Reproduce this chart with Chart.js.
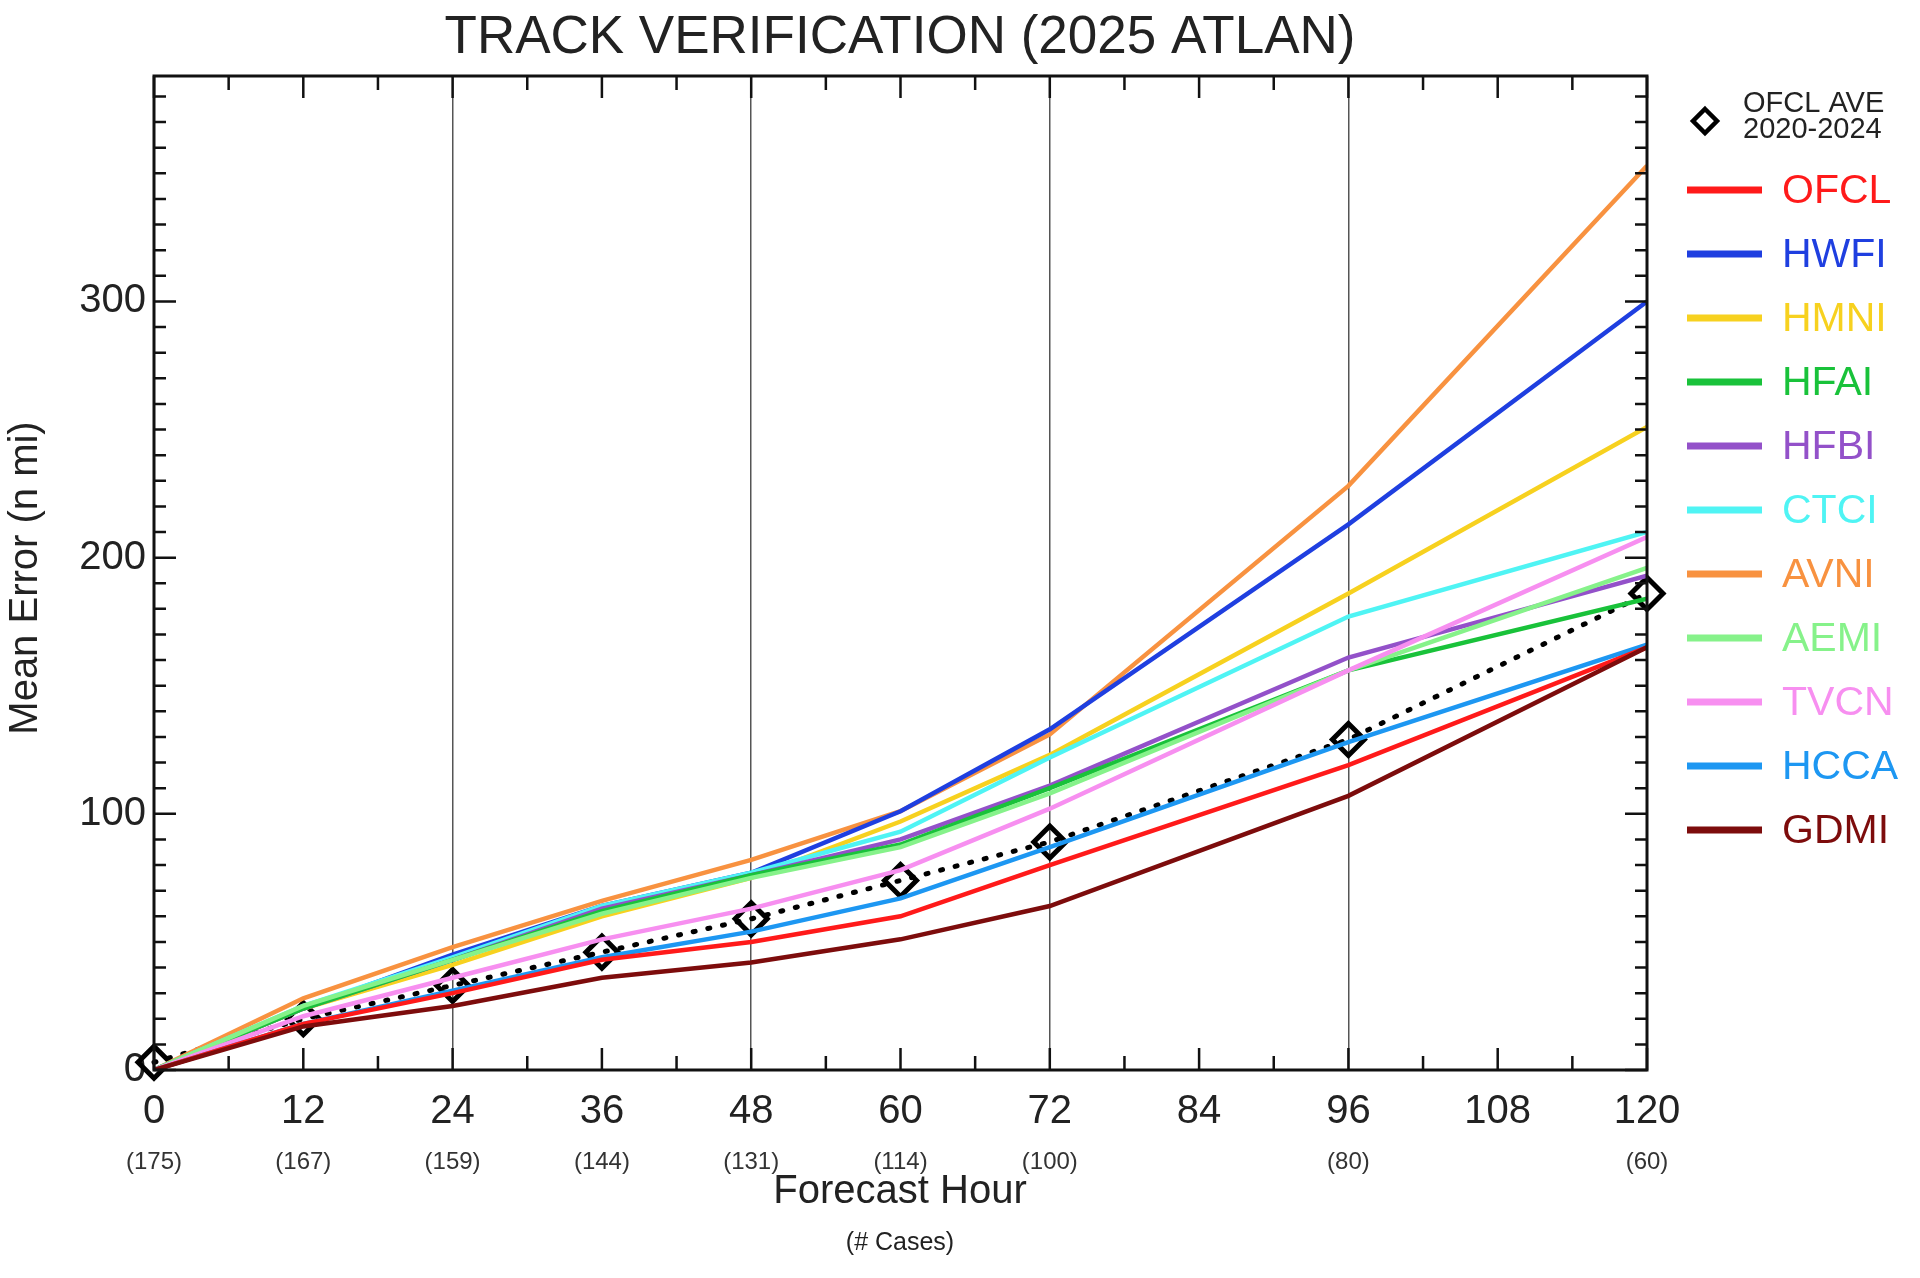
<!DOCTYPE html>
<html>
<head>
<meta charset="utf-8">
<script src="https://cdn.jsdelivr.net/npm/chart.js@4"></script>
<style>
  html, body { margin: 0; padding: 0; background: #fff; }
  #wrap { width: 1920px; height: 1278px; }
</style>
</head>
<body>
<div id="wrap"><canvas id="c" width="1920" height="1278"></canvas></div>
<script>
/* ---------- data ---------- */
const hours = [0, 12, 24, 36, 48, 60, 72, 96, 120];
const xTickLabels = ['0', '12', '24', '36', '48', '60', '72', '84', '96', '108', '120'];
const caseCounts = ['(175)', '(167)', '(159)', '(144)', '(131)', '(114)', '(100)', '', '(80)', '', '(60)'];
const yTickValues = [0, 100, 200, 300];

const ofclAve = [3, 20, 33, 46, 59, 74, 89, 129, 186];
const ofcl = [0, 18, 30, 43, 50, 60, 80, 119, 165];
const hwfi = [0, 24, 45, 64, 77, 101, 133, 213, 300];
const hmni = [0, 24, 41, 60, 75, 97, 123, 186, 251];
const hfai = [0, 24, 43, 62, 76, 88, 110, 156, 184];
const hfbi = [0, 24, 43, 63, 76, 90, 111, 161, 193];
const ctci = [0, 25, 44, 64, 77, 93, 122, 177, 210];
const avni = [0, 28, 48, 66, 82, 101, 131, 228, 353];
const aemi = [0, 25, 43, 61, 75, 87, 108, 156, 196];
const tvcn = [0, 21, 36, 51, 63, 78, 102, 156, 208];
const hcca = [0, 18, 31, 44, 54, 67, 87, 128, 166];
const gdmi = [0, 17, 25, 36, 42, 51, 64, 107, 165];

const models = [
  { name: 'OFCL', values: ofcl, color: '#ff1a1a' },
  { name: 'HWFI', values: hwfi, color: '#1f3fe0' },
  { name: 'HMNI', values: hmni, color: '#f7d11f' },
  { name: 'HFAI', values: hfai, color: '#19c23a' },
  { name: 'HFBI', values: hfbi, color: '#9351c9' },
  { name: 'CTCI', values: ctci, color: '#4ff4f4' },
  { name: 'AVNI', values: avni, color: '#f89240' },
  { name: 'AEMI', values: aemi, color: '#86f28a' },
  { name: 'TVCN', values: tvcn, color: '#f78ff0' },
  { name: 'HCCA', values: hcca, color: '#1d97f2' },
  { name: 'GDMI', values: gdmi, color: '#7d0c0c' }
];

const FONT = '"Liberation Sans", Arial, sans-serif';
const toPts = vals => vals.map((v, i) => ({ x: hours[i], y: v }));

// draw order: back to front roughly like the original
const drawOrder = ['GDMI', 'OFCL', 'HCCA', 'TVCN', 'AEMI', 'HFAI', 'HFBI', 'CTCI', 'HMNI', 'HWFI', 'AVNI'];
const datasets = drawOrder.map(n => {
  const m = models.find(mm => mm.name === n);
  return {
    label: m.name, data: toPts(m.values), borderColor: m.color,
    borderWidth: 4.5, pointRadius: 0, tension: 0, fill: false
  };
});
datasets.push({
  label: 'OFCL AVE', data: toPts(ofclAve), borderColor: '#000',
  borderWidth: 5, borderDash: [2, 13], borderCapStyle: 'round', clip: false,
  pointStyle: 'rectRot', pointRadius: 16, pointBorderWidth: 5,
  pointBorderColor: '#000', pointBackgroundColor: 'rgba(0,0,0,0)', tension: 0
});

/* ---------- frame, inside ticks, legend, labels ---------- */
const decor = {
  id: 'decor',
  afterDraw(chart) {
    const { ctx, chartArea: a, scales: { x, y } } = chart;
    ctx.save();
    ctx.strokeStyle = '#111';
    ctx.lineWidth = 3;
    ctx.strokeRect(a.left, a.top, a.right - a.left, a.bottom - a.top);

    // x ticks (inside, top and bottom)
    ctx.lineWidth = 2.5;
    for (let h = 0; h <= 120; h += 6) {
      const px = x.getPixelForValue(h);
      const len = h % 12 === 0 ? 22 : 14;
      ctx.beginPath();
      ctx.moveTo(px, a.bottom); ctx.lineTo(px, a.bottom - len);
      ctx.moveTo(px, a.top); ctx.lineTo(px, a.top + len);
      ctx.stroke();
    }
    // y ticks (inside, left and right)
    for (let v = 0; v <= y.max; v += 10) {
      const py = y.getPixelForValue(v);
      const len = v % 100 === 0 ? 22 : 12;
      ctx.beginPath();
      ctx.moveTo(a.left, py); ctx.lineTo(a.left + len, py);
      ctx.moveTo(a.right, py); ctx.lineTo(a.right - len, py);
      ctx.stroke();
    }

    // case counts
    ctx.fillStyle = '#333';
    ctx.font = '24px ' + FONT;
    ctx.textAlign = 'center';
    ctx.textBaseline = 'middle';
    caseCounts.forEach((c, i) => {
      if (c) ctx.fillText(c, x.getPixelForValue(i * 12), 1162);
    });

    // axis titles
    ctx.fillStyle = '#222';
    ctx.font = '40px ' + FONT;
    ctx.fillText('Forecast Hour', 900, 1192);
    ctx.font = '25px ' + FONT;
    ctx.fillText('(# Cases)', 900, 1243);
    ctx.save();
    ctx.translate(26, 578);
    ctx.rotate(-Math.PI / 2);
    ctx.font = '40px ' + FONT;
    ctx.fillText('Mean Error (n mi)', 0, 0);
    ctx.restore();

    // title
    ctx.font = '53px ' + FONT;
    ctx.fillText('TRACK VERIFICATION (2025 ATLAN)', 900, 38);

    // legend
    ctx.strokeStyle = '#000';
    ctx.lineWidth = 4.5;
    ctx.beginPath();
    const dx = 1705, dy = 121, r = 12;
    ctx.moveTo(dx, dy - r); ctx.lineTo(dx + r, dy); ctx.lineTo(dx, dy + r); ctx.lineTo(dx - r, dy); ctx.closePath();
    ctx.stroke();
    ctx.fillStyle = '#222';
    ctx.textAlign = 'left';
    ctx.font = '29px ' + FONT;
    ctx.fillText('OFCL AVE', 1743, 104);
    ctx.fillText('2020-2024', 1743, 130);

    ctx.font = '41px ' + FONT;
    ctx.lineWidth = 7;
    models.forEach((m, i) => {
      const ly = 190 + i * 64;
      ctx.strokeStyle = m.color;
      ctx.beginPath();
      ctx.moveTo(1687, ly); ctx.lineTo(1762, ly);
      ctx.stroke();
      ctx.fillStyle = m.color;
      ctx.fillText(m.name, 1782, ly + 2);
    });
    ctx.restore();
  }
};

new Chart(document.getElementById('c'), {
  type: 'line',
  data: { datasets },
  options: {
    responsive: false,
    animation: false,
    layout: { padding: { left: 44, top: 76, right: 273, bottom: 140 } },
    plugins: { legend: { display: false }, tooltip: { enabled: false } },
    scales: {
      x: {
        type: 'linear', min: 0, max: 120,
        afterBuildTicks: s => { s.ticks = xTickLabels.map(t => ({ value: Number(t) })); },
        afterFit: s => { s.height = 68; },
        border: { display: false },
        grid: {
          drawTicks: false,
          color: ctx => [24, 48, 72, 96].includes(ctx.tick && ctx.tick.value) ? '#555' : 'rgba(0,0,0,0)',
          lineWidth: 1.5
        },
        ticks: { color: '#222', font: { size: 40, family: FONT }, padding: 18, maxRotation: 0 }
      },
      y: {
        min: 0, max: 388,
        afterBuildTicks: s => { s.ticks = yTickValues.map(v => ({ value: v })); },
        afterFit: s => { s.width = 110; },
        border: { display: false },
        grid: { display: false, drawTicks: false },
        ticks: { color: '#222', font: { size: 40, family: FONT }, padding: 8 }
      }
    }
  },
  plugins: [decor]
});
</script>
</body>
</html>
